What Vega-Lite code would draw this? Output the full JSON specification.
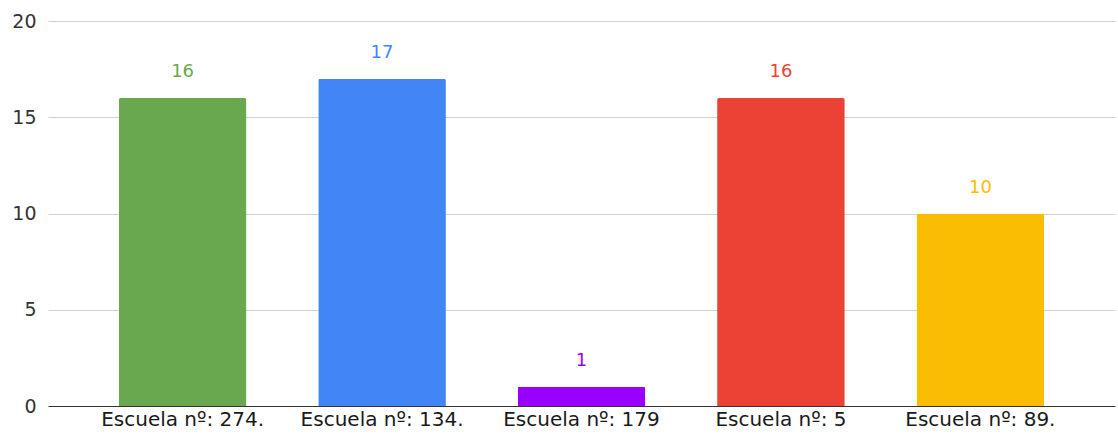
{
  "$schema": "https://vega.github.io/schema/vega-lite/v6.json",
  "width": 1067,
  "height": 385,
  "autosize": {"type": "none"},
  "padding": {"left": 48, "top": 21, "right": 3, "bottom": 28},
  "background": "white",
  "config": {"view": {"stroke": null}},
  "data": {
    "values": [
      {"escuela": "Escuela nº:  274.", "valor": 16, "color": "#6aa84f"},
      {"escuela": "Escuela nº: 134.", "valor": 17, "color": "#4285f4"},
      {"escuela": "Escuela nº: 179", "valor": 1, "color": "#9900ff"},
      {"escuela": "Escuela nº: 5", "valor": 16, "color": "#ea4335"},
      {"escuela": "Escuela nº: 89.", "valor": 10, "color": "#fbbc04"}
    ]
  },
  "encoding": {
    "x": {
      "field": "escuela",
      "type": "nominal",
      "sort": null,
      "scale": {"paddingInner": 0.36, "paddingOuter": 0.355},
      "axis": {
        "title": null,
        "labelAngle": 0,
        "labelFont": "DejaVu Sans",
        "labelFontSize": 20,
        "labelColor": "#1a1a1a",
        "labelPadding": 3,
        "ticks": false,
        "domainColor": "#333333",
        "domainWidth": 1.2,
        "grid": false
      }
    },
    "y": {
      "field": "valor",
      "type": "quantitative",
      "scale": {"domain": [0, 20]},
      "axis": {
        "title": null,
        "values": [0, 5, 10, 15, 20],
        "labelFont": "DejaVu Sans",
        "labelFontSize": 19,
        "labelColor": "#333333",
        "labelPadding": 12,
        "ticks": false,
        "domain": false,
        "gridColor": "#d0d0d0",
        "gridWidth": 1
      }
    },
    "color": {"field": "color", "type": "nominal", "scale": null, "legend": null}
  },
  "layer": [
    {"mark": {"type": "bar", "cornerRadiusTopLeft": 2, "cornerRadiusTopRight": 2}},
    {
      "mark": {"type": "text", "baseline": "bottom", "dy": -17, "font": "DejaVu Sans", "fontSize": 18},
      "encoding": {"text": {"field": "valor", "type": "quantitative"}}
    }
  ]
}
